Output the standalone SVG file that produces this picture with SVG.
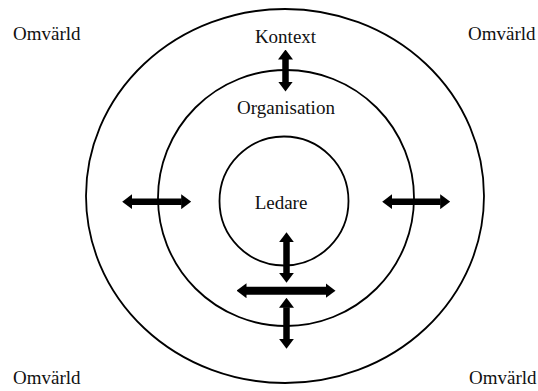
<svg xmlns="http://www.w3.org/2000/svg" width="538" height="391" viewBox="0 0 538 391">
<style>
.ring{fill:none;stroke:#000;stroke-width:1.8}
.lbl{font-family:"Liberation Serif","Times New Roman",serif;font-size:19px;fill:#111}
.arr{stroke:#000;stroke-width:6.5;marker-start:url(#head);marker-end:url(#head)}
.arr.thick{stroke-width:8}
</style>
<defs>
<marker id="head" viewBox="0 0 10 15" markerWidth="10" markerHeight="15" markerUnits="userSpaceOnUse" refX="0.5" refY="7.5" orient="auto-start-reverse">
<path d="M0,0 L10,7.5 L0,15 Z" fill="#000"/>
</marker>
</defs>
<rect width="538" height="391" fill="#fff"/>
<g id="omvarld">
<ellipse class="ring" cx="285" cy="196" rx="199" ry="187"/>
<text class="lbl" x="13" y="40">Omvärld</text>
<text class="lbl" x="468" y="40">Omvärld</text>
<text class="lbl" x="13" y="384">Omvärld</text>
<text class="lbl" x="469" y="384">Omvärld</text>
<text class="lbl" x="285.5" y="43.3" text-anchor="middle">Kontext</text>
</g>
<g id="organisation">
<circle class="ring" cx="286" cy="198" r="128"/>
<text class="lbl" x="286" y="114" text-anchor="middle">Organisation</text>
</g>
<g id="ledare">
<circle class="ring" cx="284" cy="201" r="64.5"/>
<text class="lbl" x="281" y="209.3" text-anchor="middle">Ledare</text>
</g>
<g id="connectors">
<line class="arr" x1="285.5" y1="59" x2="285.5" y2="82"/>
<line class="arr" x1="131.7" y1="201.7" x2="181.7" y2="201.7"/>
<line class="arr" x1="391.7" y1="201.7" x2="440.7" y2="201.7"/>
<line class="arr" x1="286.5" y1="241.7" x2="286.5" y2="273.3"/>
<line class="arr thick" x1="246" y1="290.7" x2="326" y2="290.7"/>
<line class="arr" x1="286.5" y1="307.3" x2="286.5" y2="339.3"/>
</g>
</svg>
